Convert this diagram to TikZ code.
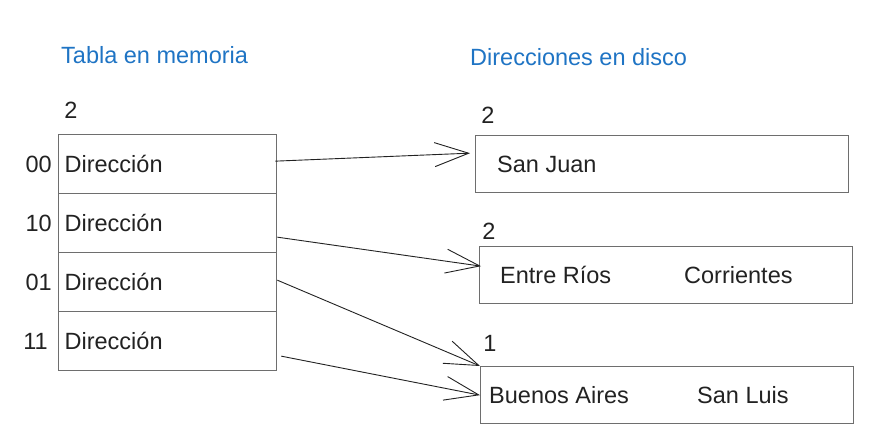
\documentclass[tikz,border=0pt]{standalone}
\usepackage{fontspec}
\setmainfont{Liberation Sans}
\usetikzlibrary{arrows.meta,calc,positioning}

\definecolor{titleblue}{HTML}{1F74C4}
\definecolor{boxgrey}{HTML}{6E6E6E}
\definecolor{inkgrey}{HTML}{222222}

\tikzset{
  txt/.style={inner sep=0pt,text=inkgrey,font=\fontsize{23.5}{28}\selectfont},
  heading/.style={txt,text=titleblue,anchor=west},
  slot/.style={txt,draw=boxgrey,line width=1.3pt,minimum width=218pt,minimum height=59pt,
    text width=206pt,inner xsep=6pt,align=left,anchor=north west},
  bucket/.style={draw=boxgrey,line width=1.3pt,minimum width=373pt,minimum height=57pt,
    inner sep=0pt,anchor=north west},
  pointer/.style={draw=inkgrey,line width=0.9pt,-{Straight Barb[length=34pt,width=24pt,line width=0.9pt]}},
}

\begin{document}
\begin{tikzpicture}[x=1pt,y=-1pt]
  \useasboundingbox (0,0) rectangle (882,445);
  % titulos
  \node[heading] (tmem) at (61,55) {Tabla en memoria};
  \node[heading] (tdisk) at (470,57) {Direcciones en disco};
  %
  % tabla en memoria
  \node[slot] (r00) at (58,134) {Dirección};
  \node[slot] (r10) at (58,193) {Dirección};
  \node[slot] (r01) at (58,252) {Dirección};
  \node[slot] (r11) at (58,311) {Dirección};
  \node[txt] (pglobal) at (71,110) {2};
  \node[txt,anchor=east] (i00) at ($(r00.west)+(-6,0)$) {00};
  \node[txt,anchor=east] (i10) at ($(r10.west)+(-6,0)$) {10};
  \node[txt,anchor=east] (i01) at ($(r01.west)+(-6,0)$) {01};
  \node[txt,anchor=east] (i11) at ($(r11.west)+(-10,0)$) {11};
  %
  % cubetas en disco
  \node[bucket] (b1) at (475,135) {};
  \node[bucket] (b2) at (479,246) {};
  \node[bucket] (b3) at (480,366) {};
  \node[txt] (p1) at (488,115) {2};
  \node[txt] (p2) at (489,231) {2};
  \node[txt] (p3) at (490,343) {1};
  \node[txt,anchor=west] (sj) at ($(b1.west)+(22,0)$) {San Juan};
  \node[txt,anchor=west] (er) at ($(b2.west)+(21,0)$) {Entre Ríos};
  \node[txt,anchor=west] (co) at ($(b2.west)+(205,0)$) {Corrientes};
  \node[txt,anchor=west] (ba) at ($(b3.west)+(9,0)$) {Buenos Aires};
  \node[txt,anchor=west] (sl) at ($(b3.west)+(217,0)$) {San Luis};
  %
  \draw[pointer] ($(r00.east)+(-2,-3)$) -- ($(b1.west)+(-5,-11)$);
  \draw[pointer] ($(r10.east)+(0,14)$) -- ($(b2.west)+(2,-9)$);
  \draw[pointer] ($(r01.east)+(0,-2)$) -- (b3.north west);
  \draw[pointer] ($(r11.east)+(4,15)$) -- (b3.west);
\end{tikzpicture}
\end{document}
